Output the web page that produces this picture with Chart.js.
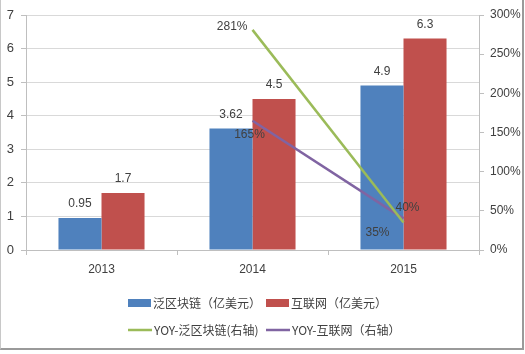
<!DOCTYPE html>
<html>
<head>
<meta charset="utf-8">
<script src="https://cdn.jsdelivr.net/npm/chart.js@4/dist/chart.umd.min.js"></script>
<style>
  body { margin: 0; background: #fff; }
  #wrap {
    position: absolute; left: 0; top: 0;
    width: 521px; height: 348px;
    border-left: 1px solid #c8c8c8;
    border-right: 2px solid #9a9a9a;
    border-bottom: 2px solid #9a9a9a;
  }
</style>
</head>
<body>
<div id="wrap"><canvas id="chart" width="521" height="348"></canvas></div>
<script>
// data
const years = ['2013', '2014', '2015'];
const blockchain = [0.95, 3.62, 4.9];     // 泛区块链（亿美元）
const internet = [1.7, 4.5, 6.3];         // 互联网（亿美元）
const yoyBlockchain = [null, 2.81, 0.35]; // YOY-泛区块链(右轴)
const yoyInternet = [null, 1.65, 0.40];   // YOY-互联网（右轴）

const FONT = '"Liberation Sans Narrow", "Liberation Sans", "Noto Sans CJK SC", sans-serif';
const CJK = '"Noto Sans CJK SC", "Liberation Sans Narrow", sans-serif';
const TXT = '#404040';

const pct = v => Math.round(v * 100) + '%';

// where each line label sits relative to its point
const lineLabelOffsets = {
    2: [null, { dx: -5, dy: -3, align: 'right' }, { dx: -26, dy: 10, align: 'center' }],
    3: [null, { dx: -3, dy: 14, align: 'center' }, { dx: 4, dy: -11, align: 'center' }]
};

const valueLabels = {
    id: 'valueLabels',
    afterDatasetsDraw(chart) {
        const ctx = chart.ctx;
        ctx.save();
        ctx.font = '12px ' + FONT;
        ctx.fillStyle = TXT;
        ctx.textBaseline = 'middle';
        chart.data.datasets.forEach((ds, di) => {
            const meta = chart.getDatasetMeta(di);
            meta.data.forEach((el, i) => {
                const v = ds.data[i];
                if (v == null) return;
                if (ds.type === 'line') {
                    const o = lineLabelOffsets[di][i];
                    ctx.textAlign = o.align;
                    ctx.fillText(pct(v), el.x + o.dx, el.y + o.dy);
                } else {
                    ctx.textAlign = 'center';
                    ctx.fillText(String(v), el.x, el.y - 14);
                }
            });
        });
        ctx.restore();
    }
};

// two-row legend like the original
const legendRows = {
    id: 'legendRows',
    afterDraw(chart) {
        const ctx = chart.ctx;
        const cols = [127, 265];
        const rows = [303, 330];
        ctx.save();
        ctx.font = '12px ' + CJK;
        ctx.fillStyle = TXT;
        ctx.textBaseline = 'middle';
        ctx.textAlign = 'left';
        chart.data.datasets.forEach((ds, i) => {
            const x = cols[i % 2], y = rows[Math.floor(i / 2)];
            if (ds.type === 'line') {
                ctx.strokeStyle = ds.borderColor;
                ctx.lineWidth = 2.5;
                ctx.beginPath();
                ctx.moveTo(x, y);
                ctx.lineTo(x + 24, y);
                ctx.stroke();
                ctx.fillText(ds.label, x + 26, y);
            } else {
                ctx.fillStyle = ds.backgroundColor;
                ctx.fillRect(x, y - 4, 23, 8);
                ctx.fillStyle = TXT;
                ctx.fillText(ds.label, x + 25, y);
            }
        });
        ctx.restore();
    }
};

new Chart(document.getElementById('chart'), {
    type: 'bar',
    data: {
        labels: years,
        datasets: [
            { label: '泛区块链（亿美元）', data: blockchain, backgroundColor: '#4F81BD', yAxisID: 'y', order: 1 },
            { label: '互联网（亿美元）', data: internet, backgroundColor: '#C0504D', yAxisID: 'y', order: 1 },
            { type: 'line', label: 'YOY-泛区块链(右轴)', data: yoyBlockchain, borderColor: '#9BBB59', borderWidth: 2.5, pointRadius: 0, yAxisID: 'y1', order: 0 },
            { type: 'line', label: 'YOY-互联网（右轴）', data: yoyInternet, borderColor: '#8064A2', borderWidth: 2.5, pointRadius: 0, yAxisID: 'y1', order: 0 }
        ]
    },
    options: {
        responsive: false,
        animation: false,
        layout: { padding: { top: 15, bottom: 68, left: 0, right: 0 } },
        datasets: { bar: { barPercentage: 1, categoryPercentage: 0.57 } },
        plugins: { legend: { display: false }, tooltip: { enabled: false } },
        scales: {
            x: {
                offset: true,
                grid: { offset: true, drawOnChartArea: false, color: '#BFBFBF', tickLength: 5 },
                border: { color: '#BFBFBF' },
                ticks: { color: TXT, font: { size: 12, family: FONT }, padding: 7 },
                afterFit(s) { s.height = 30; }
            },
            y: {
                position: 'left',
                min: 0, max: 7,
                ticks: { stepSize: 1, color: TXT, font: { size: 13, family: FONT }, padding: 7 },
                grid: { color: '#D9D9D9', tickLength: 5, tickColor: '#BFBFBF' },
                border: { color: '#BFBFBF' },
                afterFit(s) { s.width = 25; }
            },
            y1: {
                position: 'right',
                min: 0, max: 3,
                ticks: { stepSize: 0.5, color: TXT, font: { size: 12, family: FONT }, padding: 6, callback: v => pct(v) },
                grid: { drawOnChartArea: false, tickLength: 5, color: '#BFBFBF' },
                border: { color: '#BFBFBF' },
                afterFit(s) { s.width = 43; }
            }
        }
    },
    plugins: [valueLabels, legendRows]
});
</script>
</body>
</html>
